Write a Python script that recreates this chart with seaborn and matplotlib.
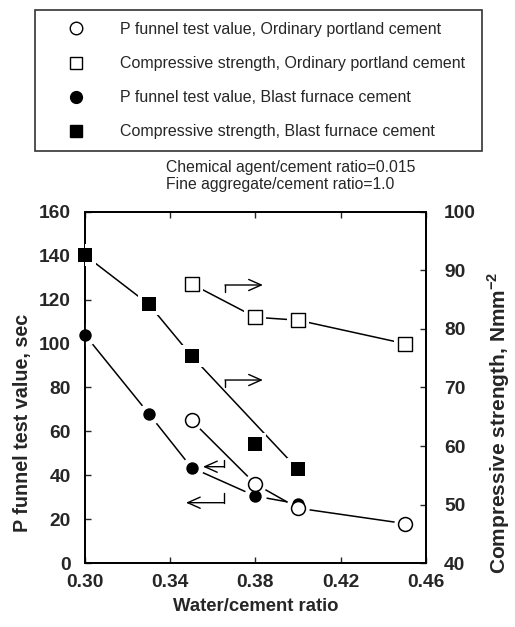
import numpy as np
import pandas as pd
import matplotlib
matplotlib.use("Agg")
import matplotlib.pyplot as plt
from matplotlib.lines import Line2D
import seaborn as sns

# values
wc_bf = [0.30, 0.33, 0.35, 0.38, 0.40]
pfunnel_bf = [104, 68, 43.5, 30.5, 27]
strength_bf = [92.6, 84.2, 75.4, 60.3, 56.0]
strength_bf_on_line = [True, True, True, False, True]

wc_op = [0.35, 0.38, 0.40, 0.45]
pfunnel_op = [65, 36, 25, 18]
strength_op = [87.7, 82.0, 81.5, 77.5]

x_ticks = [0.30, 0.34, 0.38, 0.42, 0.46]
left_ticks = [0, 20, 40, 60, 80, 100, 120, 140, 160]
right_ticks = [40, 50, 60, 70, 80, 90, 100]

legend_labels = [
    "P funnel test value, Ordinary portland cement",
    "Compressive strength, Ordinary portland cement",
    "P funnel test value, Blast furnace cement",
    "Compressive strength, Blast furnace cement",
]
note = "Chemical agent/cement ratio=0.015\nFine aggregate/cement ratio=1.0"

# arrow hooks (x of hook, y of hook start, y of arrow, x of arrow tip), left axis units
right_arrows = [(0.3657, 123.5, 126.7, 0.3835), (0.3657, 80.2, 83.4, 0.3835)]
left_arrows = [(0.3652, 46.9, 43.9, 0.3554), (0.3652, 31.9, 27.5, 0.3474)]

sns.set_style("ticks")
plt.rcParams["font.family"] = ["Liberation Sans", "DejaVu Sans"]
plt.rcParams["mathtext.fontset"] = "custom"
plt.rcParams["mathtext.rm"] = "Liberation Sans"
plt.rcParams["mathtext.bf"] = "Liberation Sans:bold"

bf = pd.DataFrame({"wc": wc_bf, "pf": pfunnel_bf, "cs": strength_bf, "on": strength_bf_on_line})
op = pd.DataFrame({"wc": wc_op, "pf": pfunnel_op, "cs": strength_op})

fig = plt.figure(figsize=(5.15, 6.27), dpi=100)
ax = fig.add_axes([0.165, 0.102, 0.662, 0.560])
ax2 = ax.twinx()

lw = 1.1
# lines
sns.lineplot(data=bf, x="wc", y="pf", ax=ax, color="black", lw=lw, sort=False, estimator=None)
sns.lineplot(data=op, x="wc", y="pf", ax=ax, color="black", lw=lw, sort=False, estimator=None)
sns.lineplot(data=bf[bf["on"]], x="wc", y="cs", ax=ax2, color="black", lw=lw, sort=False, estimator=None)
sns.lineplot(data=op, x="wc", y="cs", ax=ax2, color="black", lw=lw, sort=False, estimator=None)

# white halos so lines stop short of the markers
for a, df, col, m in [(ax, bf, "pf", "o"), (ax, op, "pf", "o"), (ax2, bf, "cs", "s"), (ax2, op, "cs", "s")]:
    sns.scatterplot(data=df, x="wc", y=col, ax=a, marker=m, s=260, color="white", linewidth=0, zorder=3)

sns.scatterplot(data=bf, x="wc", y="pf", ax=ax, marker="o", s=80, color="black", linewidth=0, zorder=4, clip_on=False)
sns.scatterplot(data=op, x="wc", y="pf", ax=ax, marker="o", s=100, facecolor="white", edgecolor="black",
                linewidth=1.1, zorder=4, clip_on=False)
sns.scatterplot(data=bf, x="wc", y="cs", ax=ax2, marker="s", s=95, color="black", linewidth=0, zorder=4, clip_on=False)
sns.scatterplot(data=op, x="wc", y="cs", ax=ax2, marker="s", s=115, facecolor="white", edgecolor="black",
                linewidth=1.0, zorder=4, clip_on=False)

# arrows pointing to the axis each series belongs to
for xh, y0, y1, xt in right_arrows + left_arrows:
    ax.plot([xh, xh], [y0, y1], color="black", lw=1.0)
    ax.annotate("", xy=(xt, y1), xytext=(xh, y1),
                arrowprops=dict(arrowstyle="->,head_length=0.9,head_width=0.4", color="black", lw=1.0,
                                shrinkA=0, shrinkB=0))

ax.set_xlim(0.30, 0.46)
ax.set_ylim(0, 160)
ax2.set_ylim(40, 100)
ax.set_xticks(x_ticks)
ax.set_xticklabels([f"{t:.2f}" for t in x_ticks])
ax.set_yticks(left_ticks)
ax2.set_yticks(right_ticks)

for lab in ax.get_xticklabels() + ax.get_yticklabels() + ax2.get_yticklabels():
    lab.set_fontsize(13.8)
    lab.set_fontweight("bold")
ax.tick_params(axis="both", direction="in", length=4, width=1.0, top=True)
ax.tick_params(axis="y", pad=10)
ax.tick_params(axis="x", pad=8)
ax2.tick_params(axis="y", direction="in", length=4, width=1.0, pad=13)

for a in (ax, ax2):
    for sp in a.spines.values():
        sp.set_visible(True)
        sp.set_linewidth(1.3)
        sp.set_color("black")

ax.set_xlabel("Water/cement ratio", fontsize=13.3, fontweight="bold", labelpad=5)
ax.set_ylabel("P funnel test value, sec", fontsize=14.2, fontweight="bold")
ax.yaxis.set_label_coords(-0.155, 0.40)
ax2.set_ylabel(r"Compressive strength, Nmm$^{\mathbf{-2}}$", fontsize=15, fontweight="bold")
ax2.yaxis.set_label_coords(1.175, 0.40)

handles = [
    Line2D([], [], ls="none", marker="o", ms=9, mfc="white", mec="black", mew=1.0),
    Line2D([], [], ls="none", marker="s", ms=9, mfc="white", mec="black", mew=1.0),
    Line2D([], [], ls="none", marker="o", ms=8.5, mfc="black", mec="black"),
    Line2D([], [], ls="none", marker="s", ms=8.5, mfc="black", mec="black"),
]
leg = fig.legend(handles, legend_labels, loc="upper left",
                 bbox_to_anchor=(35 / 515, 1 - 10 / 627, 447 / 515, 0.0), mode="expand",
                 borderaxespad=0, fontsize=11.5, frameon=True, fancybox=False,
                 edgecolor="black", borderpad=0.75, handlelength=3.6, handletextpad=1.0,
                 labelspacing=1.2)
leg.get_frame().set_linewidth(1.2)

fig.text(166 / 515, 1 - 160 / 627, note, fontsize=11.3, va="top", ha="left", linespacing=1.2)

fig.savefig("out.png", dpi=100)
